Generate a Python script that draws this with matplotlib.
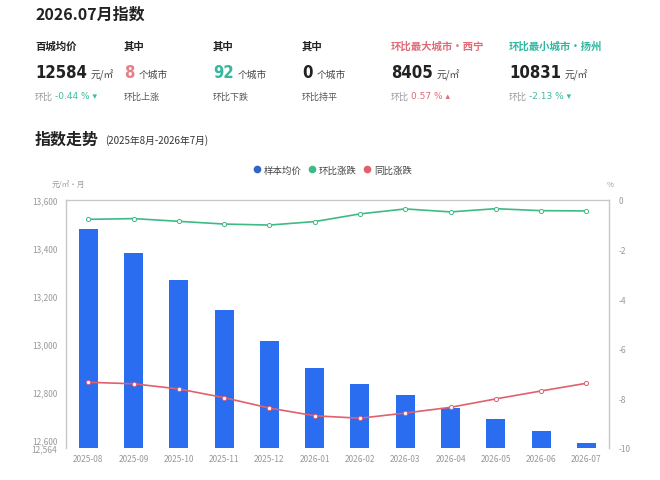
import matplotlib
matplotlib.use("Agg")
import matplotlib.pyplot as plt
from matplotlib.lines import Line2D
from matplotlib import font_manager
from matplotlib.font_manager import FontProperties

plt.rcParams['font.family'] = ['Noto Sans CJK SC', 'DejaVu Sans']

months = ["2025-08", "2025-09", "2025-10", "2025-11", "2025-12", "2026-01",
          "2026-02", "2026-03", "2026-04", "2026-05", "2026-06", "2026-07"]
avg_price = [13479, 13377, 13264, 13140, 13011, 12900,
             12830, 12785, 12730, 12687, 12635, 12584]
mom = [-0.78, -0.75, -0.86, -0.97, -1.01, -0.87,
       -0.56, -0.36, -0.48, -0.35, -0.43, -0.44]
yoy = [-7.35, -7.41, -7.62, -7.97, -8.39, -8.70,
       -8.80, -8.59, -8.36, -8.02, -7.70, -7.39]
left_ticks = [12564, 12600, 12800, 13000, 13200, 13400, 13600]
right_ticks = [0, -2, -4, -6, -8, -10]

BLUE = "#2a6df0"
GREEN = "#3dbb87"
RED = "#e0606e"
GREY = "#999999"
DARK = "#222222"

# find a narrow/condensed bold font file if one is installed
narrow = None
for f in font_manager.fontManager.ttflist:
    fn = f.fname.lower()
    if ('narrow-bold' in fn or 'condensed-bold' in fn) and 'oblique' not in fn and 'italic' not in fn:
        narrow = f.fname
        break
if narrow:
    big_fp = FontProperties(fname=narrow, size=12)
else:
    big_fp = FontProperties(family=['Liberation Sans'], weight='bold', size=12)

fig = plt.figure(figsize=(6.6, 4.81), dpi=100)
W, H = 660, 481

def fx(px):
    return px / W

def fy(py):
    return 1 - py / H

# Header
fig.text(fx(35), fy(15), "2026.07月指数", fontsize=11.5, fontweight='bold', color=DARK, va='center')

cols = [35, 124, 213, 302, 391, 509]
labels = ["百城均价", "其中", "其中", "其中", "环比最大城市•西宁", "环比最小城市•扬州"]
label_colors = [DARK, DARK, DARK, DARK, "#e06b76", "#2fb8a0"]
for x, t, c in zip(cols, labels, label_colors):
    fig.text(fx(x), fy(47), t, fontsize=7.5, fontweight='bold', color=c, va='center')

bigs = ["12584", "8", "92", "0", "8405", "10831"]
big_colors = [DARK, "#e58088", "#35b8a0", DARK, DARK, DARK]
units = ["元/㎡", "个城市", "个城市", "个城市", "元/㎡", "元/㎡"]
for x, b, bc, u in zip(cols, bigs, big_colors, units):
    t = fig.text(fx(x), fy(72.5), b, color=bc, va='center', fontproperties=big_fp)
    fig.canvas.draw()
    bb = t.get_window_extent()
    fig.text(bb.x1 / W + fx(4), fy(75), u, fontsize=7, color="#444444", va='center')

# Row 3
def row3(x, pre, val, valc, arrow):
    t = fig.text(fx(x), fy(97), pre, fontsize=6.5, color=GREY, va='center')
    fig.canvas.draw()
    bb = t.get_window_extent()
    fig.text(bb.x1 / W + fx(2), fy(97), val + " " + arrow, fontsize=6.5, color=valc, va='center',
             family=['DejaVu Sans'])

row3(35, "环比", "-0.44 %", "#3dbba0", "▾")
fig.text(fx(124), fy(97), "环比上涨", fontsize=6.5, color="#555555", va='center')
fig.text(fx(213), fy(97), "环比下跌", fontsize=6.5, color="#555555", va='center')
fig.text(fx(302), fy(97), "环比持平", fontsize=6.5, color="#555555", va='center')
row3(391, "环比", "0.57 %", "#e06b76", "▴")
row3(509, "环比", "-2.13 %", "#3dbba0", "▾")

t = fig.text(fx(35), fy(140), "指数走势", fontsize=11.5, fontweight='bold', color=DARK, va='center')
fig.canvas.draw()
bb = t.get_window_extent()
fig.text(bb.x1 / W + fx(6), fy(141), "(2025年8月-2026年7月)", fontsize=7, color="#333333", va='center')

# Chart
ax = fig.add_axes([fx(65.7), fy(449), fx(609) - fx(65.7), fy(201) - fy(449)])
x = list(range(len(months)))
ax.bar(x, [v - left_ticks[0] for v in avg_price], bottom=left_ticks[0], width=0.42, color=BLUE, zorder=2)
ax.set_xlim(-0.5, len(months) - 0.5)
ax.set_ylim(left_ticks[0], left_ticks[-1])
ax.set_yticks(left_ticks)
ax.set_yticklabels([f"{v:,}" for v in left_ticks])
ax.set_xticks(x)
ax.set_xticklabels(months)
ax.tick_params(axis='both', labelsize=6, colors=GREY, length=0, pad=4)
ax.tick_params(axis='y', pad=6)
for s in ['left', 'top', 'right']:
    ax.spines[s].set_color("#c8c8c8")
    ax.spines[s].set_linewidth(1)
ax.spines['bottom'].set_visible(False)

ax2 = ax.twinx()
ax2.set_ylim(-10, 0)
ax2.set_yticks(right_ticks)
ax2.set_yticklabels([str(v) for v in right_ticks])
ax2.tick_params(axis='y', labelsize=6, colors=GREY, length=0, pad=7)
for s in ['left', 'top', 'right', 'bottom']:
    ax2.spines[s].set_visible(False)
ax2.plot(x, mom, color=GREEN, lw=1.2, marker='o', ms=3, mfc='white', mec=GREEN, mew=0.7, zorder=3)
ax2.plot(x, yoy, color=RED, lw=1.2, marker='o', ms=3, mfc='white', mec=RED, mew=0.7, zorder=3)

fig.text(fx(52), fy(185), "元/㎡·月", fontsize=5.5, color=GREY, va='center')
fig.text(fx(607), fy(185), "%", fontsize=5.5, color=GREY, va='center')

# Legend
handles = [Line2D([], [], marker='o', ls='', color=c, ms=4.5) for c in ("#3264c8", GREEN, RED)]
fig.legend(handles, ["样本均价", "环比涨跌", "同比涨跌"], loc='center', bbox_to_anchor=(fx(332), fy(171)),
           ncol=3, frameon=False, fontsize=6.8, handletextpad=0.3, columnspacing=0.5,
           handlelength=1.0, labelcolor="#444444")

fig.savefig("out.png", dpi=100)
